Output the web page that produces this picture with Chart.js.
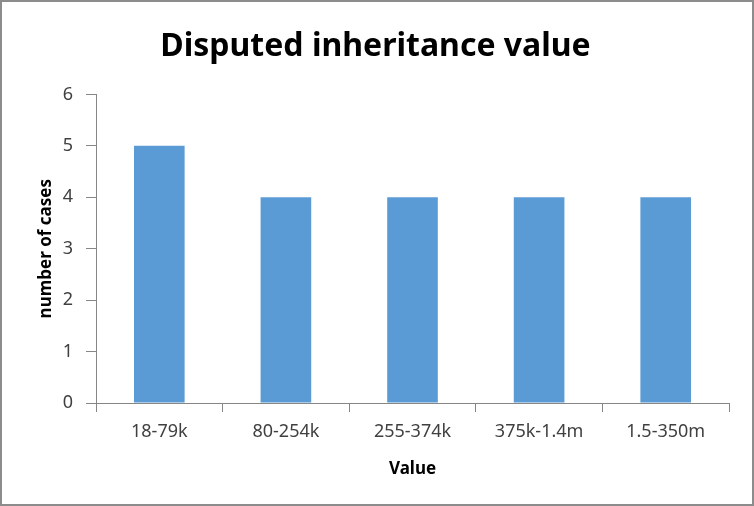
<!DOCTYPE html>
<html>
<head>
<meta charset="utf-8">
<script src="https://cdn.jsdelivr.net/npm/chart.js@4/dist/chart.umd.min.js"></script>
<style>
  html, body { margin: 0; padding: 0; background: #fff; }
  #wrap { width: 754px; height: 506px; }
</style>
</head>
<body>
<div id="wrap"><canvas id="chart" width="754" height="506"></canvas></div>
<script>
// Dados do gráfico
const categories = ['18-79k', '80-254k', '255-374k', '375k-1.4m', '1.5-350m'];
const caseCounts = [5, 4, 4, 4, 4];
const yTicks = [0, 1, 2, 3, 4, 5, 6];

const axisGray = '#868686';
const textColor = '#404040';

// Moldura externa (borda cinza ao redor do gráfico)
const frame = {
  id: 'frame',
  beforeDraw(chart) {
    const c = chart.ctx;
    c.save();
    c.fillStyle = '#fff';
    c.fillRect(0, 0, chart.width, chart.height);
    c.strokeStyle = '#8c8c8c';
    c.lineWidth = 2;
    c.strokeRect(1, 1, chart.width - 2, chart.height - 2);
    c.restore();
  }
};

new Chart(document.getElementById('chart'), {
  type: 'bar',
  data: {
    labels: categories,
    datasets: [{
      label: 'number of cases',
      data: caseCounts,
      backgroundColor: '#5b9bd5',
      borderWidth: 0,
      categoryPercentage: 1,
      barPercentage: 0.4
    }]
  },
  options: {
    responsive: false,
    animation: false,
    layout: { padding: { left: 11, right: 14, top: 0, bottom: 0 } },
    plugins: {
      legend: { display: false },
      tooltip: { enabled: false },
      title: {
        display: true,
        text: 'Disputed inheritance value',
        color: '#000',
        font: { family: 'Noto Sans', size: 32, weight: 'bold' },
        padding: { top: 28, bottom: 28 }
      }
    },
    scales: {
      x: {
        grid: {
          drawOnChartArea: false,
          color: axisGray,
          tickLength: 9,
          offset: true
        },
        border: { color: axisGray, width: 1 },
        ticks: {
          color: textColor,
          font: { family: 'Noto Sans', size: 18 },
          padding: 9,
          maxRotation: 0
        },
        title: {
          display: true,
          text: 'Value',
          color: '#000',
          font: { family: 'Noto Sans', size: 17, weight: 'bold' },
          padding: { top: 0, bottom: 27 }
        },
        afterFit(scale) { scale.height = 103; }
      },
      y: {
        min: 0,
        max: 6,
        afterBuildTicks(scale) {
          scale.ticks = yTicks.map(v => ({ value: v }));
        },
        grid: {
          drawOnChartArea: false,
          color: axisGray,
          tickLength: 10
        },
        border: { color: axisGray, width: 1 },
        ticks: {
          color: textColor,
          font: { family: 'Noto Sans', size: 18 },
          padding: 13
        },
        title: {
          display: true,
          text: 'number of cases',
          color: '#000',
          font: { family: 'Noto Sans', size: 17, weight: 'bold' },
          padding: { top: 25, bottom: 0 }
        },
        afterFit(scale) { scale.width = 85; }
      },
      // Espaço vazio à direita, para manter o título centrado na moldura
      spacer: {
        type: 'linear',
        position: 'right',
        display: true,
        grid: { display: false },
        border: { display: false },
        ticks: { display: false },
        afterFit(scale) { scale.width = 11; }
      }
    }
  },
  plugins: [frame]
});
</script>
</body>
</html>
